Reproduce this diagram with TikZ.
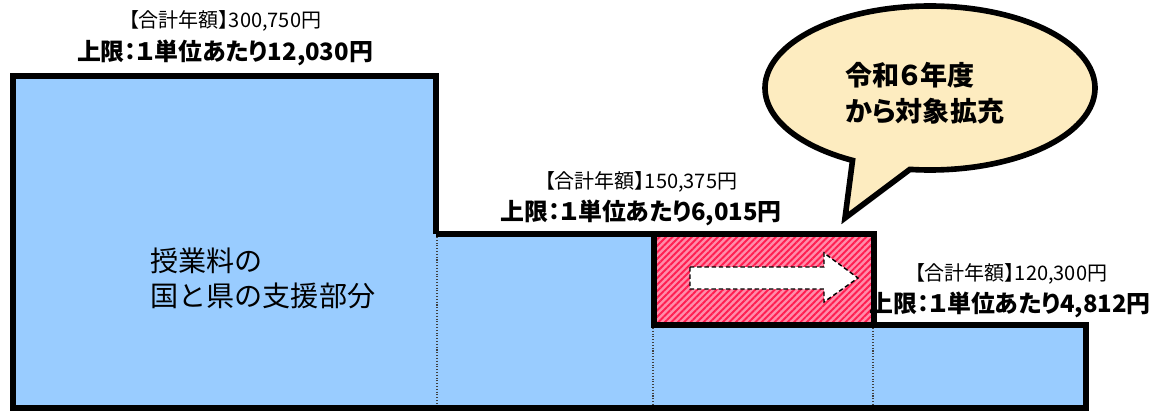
\documentclass[tikz,border=0pt]{standalone}
\usepackage{fontspec}
\newfontfamily\jp{Noto Sans CJK JP}
\newfontfamily\jpp{Noto Sans CJK JP}[RawFeature=+palt]
\usetikzlibrary{patterns.meta}
\definecolor{boxblue}{RGB}{153,204,255}
\definecolor{pinkbase}{RGB}{255,140,170}
\definecolor{pinkline}{RGB}{255,30,80}
\definecolor{bubblefill}{RGB}{253,236,192}
\tikzset{
  outline/.style={line width=5.5*0.5669pt, line join=miter},
  sumlbl/.style={inner sep=0pt, font=\jpp\fontsize{11.4pt}{12pt}\selectfont},
  limlbl/.style={inner sep=0pt, font=\jpp\bfseries\fontsize{13.6pt}{15pt}\selectfont},
  divider/.style={densely dotted, line width=0.6pt, black!75},
  bubtxt/.style={inner sep=0pt, anchor=west, font=\jpp\bfseries\fontsize{15.4pt}{17pt}\selectfont},
  maintxt/.style={inner sep=0pt, anchor=west, font=\jp\fontsize{16pt}{17pt}\selectfont},
}
\begin{document}
\begin{tikzpicture}[x=0.02cm, y=-0.02cm]
\useasboundingbox (0,0) rectangle (1150,412);
% blue area
\fill[boxblue] (13,76) -- (436,76) -- (436,234) -- (654,234) -- (654,325) -- (1086,325) -- (1086,408) -- (13,408) -- cycle;
% dividers
\draw[divider] (437,237) -- (437,406);
\draw[divider] (653,328) -- (653,406);
\draw[divider] (873,328) -- (873,406);
% outline
\draw[outline] (436,234) -- (436,76) -- (13,76) -- (13,408) -- (1086,408) -- (1086,325) -- (874,325);
\draw[outline] (436,234) -- (654,234);
% pink box
\fill[pinkbase] (654,234) rectangle (874,325);
\fill[pattern={Lines[angle=45,distance=2.6pt,line width=1.1pt]}, pattern color=pinkline] (654,234) rectangle (874,325);
\draw[outline] (654,234) rectangle (874,325);
% arrow
\draw[fill=white, dashed, line width=0.8pt, dash pattern=on 2.5pt off 1.6pt]
  (690,267) -- (824,267) -- (824,253) -- (858,278) -- (824,302) -- (824,289) -- (690,289) -- cycle;
% bubble
\draw[fill=bubblefill, line width=3.2pt, line join=miter]
  plot[domain=118:457, samples=160, smooth] ({930+165*cos(\x)},{88+82*sin(\x)}) -- (845,218) -- cycle;
\node[bubtxt] (bub1) at (845,75) {令和６年度};
\node[bubtxt] (bub2) at (845,111) {から対象拡充};
% labels
\node[sumlbl] (s1) at (225,21) {【合計年額】300,750円};
\node[limlbl] (l1) at (225,53) {上限：１単位あたり12,030円};
\node[sumlbl] (s2) at (641,182) {【合計年額】150,375円};
\node[limlbl] (l2) at (641,213) {上限：１単位あたり6,015円};
\node[sumlbl] (s3) at (1011,274) {【合計年額】120,300円};
\node[limlbl] (l3) at (1010,305) {上限：１単位あたり4,812円};
% main text
\node[maintxt] (m1) at (150,261) {授業料の};
\node[maintxt] (m2) at (150,296) {国と県の支援部分};
\end{tikzpicture}
\end{document}
